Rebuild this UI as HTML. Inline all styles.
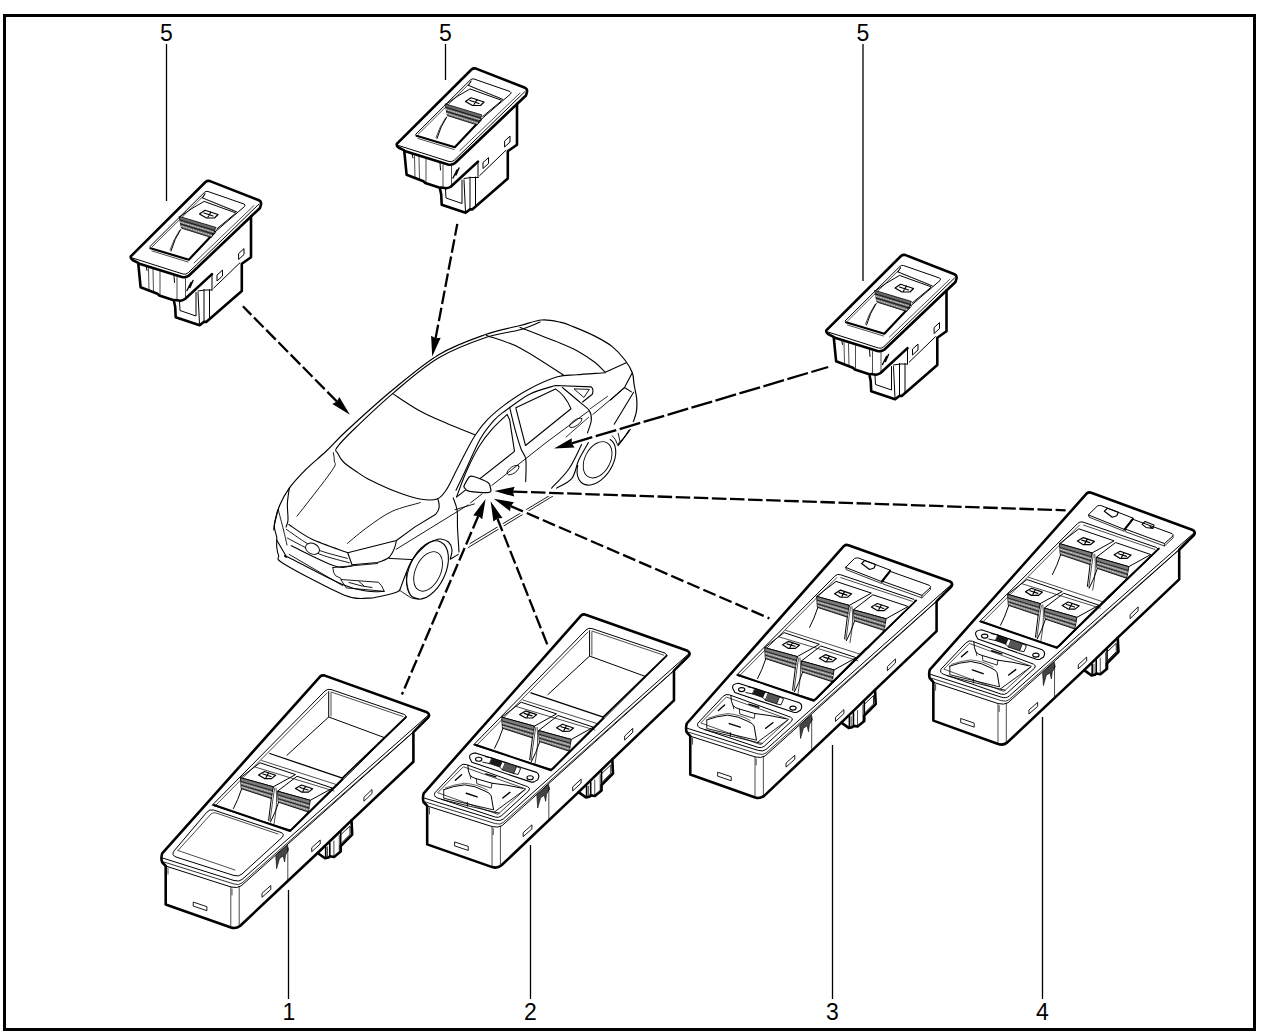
<!DOCTYPE html>
<html><head><meta charset="utf-8"><style>
html,body{margin:0;padding:0;background:#fff;}
svg{display:block;}
</style></head><body>
<svg width="1280" height="1033" viewBox="0 0 1280 1033">
<g fill="none" stroke="#000" stroke-linejoin="round" stroke-linecap="round">
<path d="M273.8,530.0 C274.0,528.8 273.8,527.0 274.8,522.9 C275.8,518.8 277.2,511.3 279.6,505.5 C282.0,499.7 284.8,494.2 289.3,488.1 C293.8,482.0 300.6,474.8 306.7,468.7 C312.8,462.6 319.3,457.8 326.1,451.3 C332.9,444.9 336.4,440.1 347.4,430.0 C358.4,419.9 376.7,403.0 391.9,390.5 C407.1,378.0 422.9,364.2 438.4,354.9 C453.9,345.6 471.2,339.7 484.8,334.8 C498.4,329.9 510.5,328.0 520.0,325.5 C529.5,323.0 535.0,320.6 541.7,320.0 C548.4,319.4 554.8,321.1 560.0,322.2 C565.2,323.3 567.3,324.3 573.1,326.6 C578.9,328.9 588.3,332.8 594.8,336.1 C601.3,339.4 607.2,342.5 612.3,346.6 C617.4,350.7 622.0,356.1 625.3,360.5 C628.6,364.9 630.8,368.8 632.3,372.7 C633.8,376.6 633.3,379.6 634.0,384.0 C634.7,388.4 636.3,394.6 636.7,399.0 C637.1,403.4 636.9,407.5 636.5,410.7 C636.1,413.9 635.6,415.2 634.5,418.4 C633.4,421.6 632.4,425.5 629.7,430.0 C627.0,434.5 620.0,442.9 618.1,445.5" stroke-width="1.2"/>
<path d="M540.0,322.0 C536.7,323.3 528.9,327.2 520.0,329.8 C511.1,332.4 500.0,332.6 486.4,337.3 C472.8,342.0 453.9,348.8 438.4,358.0 C422.9,367.2 407.7,380.8 393.5,392.8 C379.3,404.8 362.7,420.8 353.2,430.0 C343.7,439.2 339.3,444.0 336.7,447.9 C334.1,451.8 336.6,450.8 337.7,453.2 C338.8,455.6 340.6,459.1 343.5,462.0 C346.4,464.9 351.0,467.9 355.1,470.7 C359.2,473.5 361.0,475.3 368.0,478.9 C375.0,482.4 388.1,488.6 397.0,492.0 C405.9,495.4 414.4,498.1 421.2,499.2 C428.0,500.3 433.3,500.5 437.7,498.7 C442.1,496.9 444.2,492.9 447.4,488.1 C450.5,483.3 453.5,476.1 456.6,470.0 C459.7,463.9 462.9,457.3 466.1,451.4 C469.3,445.5 472.1,439.9 475.7,434.5 C479.3,429.1 483.0,424.2 487.9,419.2 C492.8,414.2 498.6,409.4 505.3,404.4 C512.0,399.4 519.7,394.0 528.4,389.4 C537.1,384.8 549.3,379.2 557.4,376.8 C565.5,374.4 568.8,375.5 576.8,374.8 C584.8,374.1 600.5,373.1 605.3,372.7" stroke-width="1.1"/>
<path d="M392.7,393.6 C397.2,396.5 410.9,406.0 420.0,411.0 C429.1,416.0 437.9,419.6 447.0,423.5 C456.1,427.4 470.2,432.8 474.8,434.7" stroke-width="1.1"/>
<path d="M486.4,335.5 C492.0,337.6 507.2,341.3 520.0,347.9 C532.8,354.5 556.2,370.5 563.4,375.0" stroke-width="1.1"/>
<path d="M520.0,327.5 C526.7,330.1 550.4,339.2 560.0,343.1 C569.6,347.0 571.6,347.8 577.4,351.0 C583.2,354.2 590.1,358.8 594.8,362.3 C599.4,365.9 603.5,370.6 605.3,372.3 L626.2,362.7" stroke-width="1.1"/>
<path d="M632.3,372.7 L624.5,387.5 L631.4,391.9 M624.5,387.5 L610.5,400" stroke-width="1.1"/>
<path d="M633.6,392.3 L614.2,424.2" stroke-width="1.1"/>
<path d="M629.7,430 L618.1,445.5 M612.3,435.8 Q616,439 617.1,443.6 M618.1,432.9 L620,441.6" stroke-width="0.9"/>
<path d="M590,408.9 L607.6,396.3" stroke-width="0.8"/>
<path d="M456.0,490.3 C457.8,486.6 462.6,476.7 466.6,468.1 C470.6,459.6 475.7,446.9 480.2,439.0 C484.7,431.1 489.6,425.3 493.7,420.6 C497.8,415.9 498.9,415.4 505.0,411.0 C511.1,406.6 521.6,398.1 530.0,393.9 C538.4,389.6 551.2,386.9 555.5,385.5 L591.3,386.9 Q594,389 592.3,394.2 L582.6,402" stroke-width="1.1"/>
<path d="M456.5,497.1 C458.2,492.6 463.2,478.5 467.0,470.0 C470.8,461.5 475.0,453.1 479.2,446.2 C483.4,439.3 487.6,434.1 492.3,428.8 C497.0,423.5 504.6,416.8 507.1,414.4 L509.7,420.1 L514.5,451.4 L456.5,497.1" stroke-width="1.1"/>
<path d="M509.7,407.4 C510.6,411.0 513.0,421.9 514.9,428.8 C516.8,435.7 519.2,443.7 521.0,448.8 C522.8,453.9 525.0,453.8 525.8,459.3 C526.6,464.8 525.7,477.9 525.7,481.6" stroke-width="1.1"/>
<path d="M515.8,407.8 L555.5,388.9 Q565.2,395.2 571,408.7 L525.5,445.5 Z" stroke-width="1.1"/>
<path d="M562.3,387.4 C565.4,390.0 576.2,399.0 580.7,402.9 C585.2,406.8 587.6,407.8 589.4,410.7 C591.2,413.6 591.6,416.6 591.3,420.3 C591.0,424.0 588.1,430.8 587.5,432.9" stroke-width="1.1"/>
<path d="M574.4,388.9 L589.4,389.4 L584.1,397.1 Z" stroke-width="0.9"/>
<path d="M470.5,502.9 L482,494 M491.8,485.5 L545,443.4 L588.6,411 M592.8,414.5 L624.5,387.8" stroke-width="0.9"/>
<path d="M566.1,437 L588.6,417.3" stroke-width="0.8"/>
<ellipse cx="575.8" cy="422.8" rx="7.3" ry="2.8" transform="rotate(-35 575.8 422.8)" stroke-width="0.8"/>
<ellipse cx="513.1" cy="470" rx="7" ry="3.2" transform="rotate(-35 513.1 470)" stroke-width="0.8"/>
<path fill="#fff" d="M464.7,484.5 C465.6,482.7 467.9,478.1 469.5,476.8 C471.1,475.5 471.3,475.8 474.4,476.8 C477.5,477.8 485.2,480.8 487.9,482.6 C490.5,484.4 490.1,485.8 490.3,487.4 C490.5,489.0 492.4,491.6 488.9,492.3 C485.4,493.0 473.6,492.1 469.5,491.3 C465.4,490.5 465.0,488.5 464.2,487.4 C463.4,486.3 463.8,486.3 464.7,484.5 Z" stroke-width="1.2"/>
<path d="M453.2,497.8 C453.9,499.9 456.4,505.3 457.1,510.3 C457.8,515.3 457.2,520.8 457.5,527.8 C457.8,534.8 458.8,548.0 459.0,552.0" stroke-width="1.1"/>
<path d="M455,509.7 L474.4,503.9" stroke-width="0.9"/>
<path d="M466,546 L551.8,494.2 M467.5,548 L553,496" stroke-width="0.9"/>
<path d="M333.3,452.7 C333.5,454.1 334.5,458.0 334.3,461.0 C334.1,464.0 338.1,461.5 331.9,470.7 C325.7,479.9 302.8,508.6 297.0,516.2" stroke-width="0.9"/>
<path d="M289.3,488.1 C289.0,490.7 287.6,498.3 287.4,503.6 C287.2,508.9 288.2,516.1 288.0,520.0 C287.8,523.9 286.3,525.8 286.0,527.0" stroke-width="1.1"/>
<path d="M277.7,510.0 C277.1,512.6 274.5,521.0 274.3,525.5 C274.1,530.0 276.3,533.6 276.7,537.1 C277.1,540.6 276.4,543.7 276.7,546.8 C277.0,549.9 277.3,552.6 278.6,555.5 C279.9,558.4 273.5,557.6 284.5,564.2 C295.5,570.8 330.6,589.6 344.5,595.2 C358.4,600.9 362.6,597.8 368.0,598.1 C373.4,598.4 372.4,598.0 377.2,597.0 C382.0,596.0 393.1,593.3 397.0,591.9 C400.9,590.5 399.8,589.0 400.4,588.4" stroke-width="1.1"/>
<path d="M276.7,540.0 C278.3,542.8 284.4,553.6 286.4,556.5 C288.4,559.4 279.4,552.7 288.8,557.4 C298.2,562.1 329.3,578.9 342.5,584.5 C355.7,590.1 361.1,590.1 368.0,591.3 C374.9,592.4 381.4,591.4 384.1,591.4" stroke-width="1.1"/>
<path d="M278.2,509.4 C279.1,512.8 282.0,524.1 283.5,530.0 C285.0,535.9 286.4,542.5 287.0,545.0" stroke-width="0.9"/>
<path d="M288.8,524.5 C292.6,526.9 301.8,534.3 311.6,539.0 C321.4,543.7 341.7,550.4 347.7,552.7 L396.4,540.5 L415,526.9 L435.8,514.2 Q441.5,508 437.7,498.7" stroke-width="1.1"/>
<path d="M286.4,529.4 C289.5,531.5 299.1,538.5 304.8,542.0 C310.5,545.5 313.2,548.0 320.3,550.7 C327.4,553.4 342.9,557.1 347.4,558.4" stroke-width="0.9"/>
<path d="M287.4,538.1 C292.7,540.8 309.0,549.9 319.3,554.0 C329.6,558.1 344.3,561.3 349.3,562.8" stroke-width="0.9"/>
<path d="M291.2,545.8 C298.5,549.2 324.6,562.8 334.8,566.1 C345.0,569.4 349.3,565.8 352.2,565.7" stroke-width="1.1"/>
<path d="M289.3,554.5 L342.5,585.5" stroke-width="0.9"/>
<ellipse fill="#fff" cx="312.5" cy="548.7" rx="7.3" ry="5.2" transform="rotate(25 312.5 548.7)" stroke-width="0.9"/>
<path d="M347.4,543.4 C350.8,540.6 360.5,532.1 368.0,526.8 C375.5,521.4 383.5,515.3 392.2,511.3 C400.9,507.3 415.6,504.1 420.3,502.6" stroke-width="0.9"/>
<path d="M347.7,552.7 L352,564.8 L377.5,562.5 Q386,560 389.5,557 Q395,550 396.4,540.5" stroke-width="1.1"/>
<path d="M389.2,558.4 L412.4,559.6" stroke-width="1.0"/>
<path d="M332.8,567.6 L377.5,563.5 M332.8,567.6 Q333,573 335.5,575.7 L340.9,578.4" stroke-width="0.9"/>
<path d="M340.9,579.8 L346.3,587.9 L384.2,591.3 Q382,585 378.8,582.5 Z M349,582.5 L362,586 L372,587.5 M359,581.5 L364,586" stroke-width="0.9"/>
<path d="M396.1,549.3 L468,505" stroke-width="0.9"/>
<path d="M400.4,588.4 C401.2,586.1 403.5,579.5 405.5,574.7 C407.5,569.9 409.1,564.5 412.4,559.6 C415.7,554.7 421.6,548.7 425.3,545.5 C429.0,542.3 432.2,541.4 434.8,540.3 C437.4,539.2 438.5,538.7 440.8,539.0 C443.1,539.3 446.6,540.2 448.5,542.0 C450.4,543.8 451.7,546.9 452.0,549.8 C452.3,552.7 450.5,557.6 450.2,559.2 L458.8,554.1" stroke-width="1.1"/>
<ellipse cx="427.5" cy="570" rx="18" ry="31" transform="rotate(25 427.5 570)" stroke-width="1.1"/>
<ellipse cx="428.1" cy="571.4" rx="12.5" ry="21" transform="rotate(25 428.1 571.4)" stroke-width="0.9"/>
<path d="M406.4,573.0 C406.5,574.7 406.1,579.6 406.8,583.3 C407.5,587.0 408.8,592.7 410.7,595.3 C412.6,597.9 417.1,598.2 418.4,598.8" stroke-width="0.9"/>
<path d="M399.5,590.2 C401.5,591.5 408.5,596.5 411.6,597.9 C414.8,599.3 417.3,598.6 418.4,598.8" stroke-width="0.9"/>
<path d="M610.2,439.5 A16,26 32 1 1 577.8,465.2" stroke-width="1.1"/>
<ellipse cx="597.6" cy="459.8" rx="12.6" ry="19.4" transform="rotate(28 597.6 459.8)" stroke-width="0.9"/>
<path d="M551.6,488.1 C554.5,484.9 564.0,476.0 569.0,468.7 C574.0,461.4 579.5,448.5 581.6,444.5" stroke-width="1.1"/>
<path d="M556.5,488.1 C559.1,486.5 568.2,483.1 571.9,478.4 C575.6,473.7 576.0,466.0 578.7,460.0 C581.5,454.0 586.8,445.5 588.4,442.6" stroke-width="1.1"/>
<path d="M617.4,444.5 Q625,438 629,430" stroke-width="0.9"/>
<g id="sw5"><path stroke-width="2.6" fill="#fff" d="M396.8,143.8 L471.5,69.5 Q473.5,67.8 476,68.6 L525,87.8 Q527.6,89 527,91.8 L526,95.5 L517,104 L517,144.7 L507.8,151.3 L507.8,178.4 L472.2,209.4 L469.8,209.4 L465.6,212.7 L441.7,204.7 L441.2,194.4 L439.8,187.8 L425.3,183.1 L423.4,181.2 L406.6,174.7 L404.2,150.3 L398.5,147.5 Q396.3,146 396.8,143.8 Z"/>
<path stroke-width="1" d="M398.5,145.5 L449,161.5 Q452,162.5 454.5,160 L525,91.5"/>
<path stroke-width="0.7" d="M460,150.5 L520,93"/>
<path stroke-width="2.6" d="M404.5,151 L448,164.5 Q452,165.5 455,163 L517,104"/>
<path stroke-width="2.6" d="M441,187.5 L446.5,188.2 Q449,188 451,186.5 L478,161.6"/>
<path stroke-width="0.7" d="M414.5,156 L415,178 M419,157 L419.5,179.5 M426,159 L426,183 M443,165 L443,187 M451.5,166 L451.5,187 "/>
<path stroke-width="1" d="M412,153 L413,158 M440,163 L440.5,170"/>
<path stroke-width="1" d="M479.7,175.6 L505.9,150.3 M478,161.6 L478,177.5 M464,180 L465.5,212 M470,177 L470,209.4 M475.5,177 L475.5,207 M464,178.5 Q470,177 478,177.5"/>
<path stroke-width="1" d="M445.5,189 L446,198 L462,203.5 L462,180"/>
<path stroke-width="1.4" d="M457,170 L453,178 M459,168 L456,175"/>
<path stroke-width="1" d="M483,163 L483,168.5 L488.5,163.5 L488.5,158 Z M504.6,141.5 L504.6,147 L510,142 L510,136.5 Z"/>
<path stroke-width="1" d="M415.6,134.4 L470.3,80 Q472,78.3 474,79 L510,91.5 Q512,92.5 510.5,94 L481,119.5"/>
<path stroke-width="0.7" d="M418,134.5 L471,82"/>
<path stroke-width="2.2" d="M416.5,135.8 L454.8,147.2 L481,119.5"/>
<path stroke-width="0.7" d="M418,138.5 L454,149.5"/>
<path stroke-width="1" d="M468.7,85.5 L502.8,99.4 M470.3,89 L501.3,100.2 M468.5,85.5 L471,81"/>
<path stroke-width="0.6" stroke="#444" d="M472,87 L500,98"/>
<path stroke-width="1" d="M469.5,89.2 Q457,96 445.5,104.5 M501.3,101 L482.7,116.5"/>
<path stroke-width="0.8" fill="#6a6a6a" d="M445.5,104 L481.9,114.9 L477.3,125 L447.8,115.7 Z"/>
<path stroke-width="1.3" stroke="#1a1a1a" d="M446.3,107.5 L480.8,118 M446.8,111.5 L479.5,121.5"/>
<path stroke-width="0.9" stroke="#ddd" stroke-dasharray="1.2 1.4" d="M446,109.5 L481,120 M446.8,113.5 L478.5,123.5"/>
<path stroke-width="1.2" d="M465.5,101.5 L471,97.8 L484,102 L480.5,105.5 L472.5,105.5 Z M470,100.5 L479,103.5 M474,104.5 L477,99.5"/>
<path stroke-width="1" d="M446.7,117 Q440.5,126 437,138.5"/>
<path stroke-width="0.7" d="M445.5,118 Q439.5,127 436,137.5"/></g>
<use href="#sw5" transform="translate(-266,112.5)"/>
<use href="#sw5" transform="translate(429.5,186.5)"/>
<path stroke-width="2.6" fill="#fff" d="M162.2,853.3 L320.3,676.3 Q322.3,674.8 324.8,675.6 L427,712.3 Q430,713.8 428.6,716.8 L413.4,732.1 L413.4,761.8 L351.5,820.4 L352.2,834.6 L340.7,846.1 L340.7,851.5 L334,857 L330,856.3 L328.5,857.6 L325,858.3 L317.6,853 L240,926 Q236,929 231,927.5 L165.7,904.4 L165.7,866 L162,862 Q160.8,857.5 162.2,853.3 Z"/>
<path stroke-width="1.0" d="M162.5,858 L234,880.5 Q239.2,882 242,879.5 L428,715.5"/>
<path stroke-width="0.8" d="M164,862 L234,884 Q239,885.5 242,883 L428.5,718.5"/>
<path stroke-width="1.0" d="M165.7,866 L231,887 Q237,888.5 241,886 L413.4,732.1"/>
<path stroke-width="0.7" d="M230.8,887 L230.8,926.8 M239.2,887 L239.2,926"/>
<path stroke-width="0.7" d="M168,868 L168,874 M232,889 L232,895"/>
<path stroke-width="0.6" fill="#444" d="M277.5,854 L287.5,845 L288.5,850 L285.5,855 L284.6,862 L283.2,856 L279.5,858.5 L276.6,868.7 L275.8,856 Z"/>
<path stroke-width="0.9" d="M193.6,902.2 L206.9,906.7 L206.9,910.7 L193.6,906.2 Z M262.3,897 L270.8,889.5 L270.8,885.5 L262.3,893 Z M312,851.5 L320.2,844 L320.2,840 L312,847.5 Z M364.2,801 L372,793.5 L372,789.5 L364.2,797 Z"/>
<path stroke-width="2.6" d="M351.5,820.4 L317.6,853"/>
<path stroke-width="1.6" d="M340.7,832 L340.7,846.1 M329.8,843 L329.8,856.2 M325.7,847 L325.7,857.6"/>
<path stroke-width="0.9" d="M341.5,834 L350,826 L350,834.5 L341.5,843"/>
<path stroke-width="0.7" d="M333.9,841 L333.9,855.5 M339.3,835.5 L339.3,851.5 M327.5,847 L327.5,857"/>
<path stroke-width="0.7" d="M287.8,848 L287.8,880"/>
<path stroke-width="2.0" d="M214,805 L290,831 L342.4,779.3"/>
<path stroke-width="1.0" d="M212.5,804.9 L325,691 Q327.5,688.5 331,689.5 L404.5,714.5 Q407.3,716 405,718.5 L293,829 Q291,830.5 288.5,829.5 Z"/>
<path stroke-width="0.7" d="M215,806 L327,693 M331,692 L403,716.5"/>
<path stroke-width="1.0" d="M328.7,691.6 L328.7,717 L384.4,737.6 M328.7,717 L287,755.2"/>
<path stroke-width="0.7" d="M331,693 L331,716"/>
<path stroke-width="1.3" d="M269.8,753.5 L342.4,778.1"/>
<path stroke-width="1.8" d="M342.4,778.1 L406.1,717"/>
<path stroke-width="0.7" d="M261.6,760.5 L337.7,785 M255,767 L334,791"/>
<path stroke-width="1.0" d="M260.4,762.9 L295.5,774.6 L273.3,786.8 L240.9,777.8 Z"/>
<path stroke-width="0.9" fill="#7a7a7a" d="M240.9,777.8 L273.3,786.8 L271.3,798.5 L241.6,788.75 Z"/>
<path stroke-width="1.0" stroke="#222" d="M241.2,781.5 L272.6,790.6 M241.4,785.3 L272,794.5"/>
<path stroke-width="0.9" stroke="#ddd" stroke-dasharray="1.2 1.4" d="M241.6,783.4 L272.3,792.5 M241.8,787 L271.7,796.4"/>
<path stroke-width="1.0" d="M241.6,789 Q238,800 233.4,808.6"/>
<path stroke-width="1.0" d="M271.3,798.5 L268.6,820.3"/>
<path stroke-width="1.2" d="M258.5,775 L264.5,771.5 L275.6,775.3 L271.5,778.6 L264.5,778.6 Z M263,774 L271,776.5 M266,777.5 L268.5,773"/>
<path stroke-width="0.7" d="M273.3,787 L274.5,789 L273,799 L270,821 M276,788 Q278,803 274,824"/>
<g transform="translate(37,13.5)"><path stroke-width="1.0" d="M260.4,762.9 L295.5,774.6 L273.3,786.8 L240.9,777.8 Z"/>
<path stroke-width="0.9" fill="#7a7a7a" d="M240.9,777.8 L273.3,786.8 L271.3,798.5 L241.6,788.75 Z"/>
<path stroke-width="1.0" stroke="#222" d="M241.2,781.5 L272.6,790.6 M241.4,785.3 L272,794.5"/>
<path stroke-width="0.9" stroke="#ddd" stroke-dasharray="1.2 1.4" d="M241.6,783.4 L272.3,792.5 M241.8,787 L271.7,796.4"/>
<path stroke-width="1.0" d="M241.6,789 Q238,800 233.4,808.6"/>
<path stroke-width="1.0" d="M271.3,798.5 L255,816.5"/>
<path stroke-width="1.2" d="M258.5,775 L264.5,771.5 L275.6,775.3 L271.5,778.6 L264.5,778.6 Z M263,774 L271,776.5 M266,777.5 L268.5,773"/></g>
<path stroke-width="1.0" d="M174,851 Q171,855 176,857 L234,875.5 Q239,877 242,874 L282,837.5 Q285,834 281,832.5 L213.5,810 Q209.7,809 207,812 Z"/>
<path stroke-width="0.7" d="M178,850.5 L211,814 Q213,812 216,813 L278,834 M178,850.5 L235,870"/>
<g transform="translate(260.5,-61.5) matrix(0.9963,-0.0056,0,1,1.6,2.4)"><path stroke-width="2.6" fill="#fff" d="M162.2,853.3 L320.3,676.3 Q322.3,674.8 324.8,675.6 L427,712.3 Q430,713.8 428.6,716.8 L413.4,732.1 L413.4,761.8 L351.5,820.4 L352.2,834.6 L340.7,846.1 L340.7,851.5 L334,857 L330,856.3 L328.5,857.6 L325,858.3 L317.6,853 L240,926 Q236,929 231,927.5 L165.7,904.4 L165.7,866 L162,862 Q160.8,857.5 162.2,853.3 Z"/>
<path stroke-width="1.0" d="M162.5,858 L234,880.5 Q239.2,882 242,879.5 L428,715.5"/>
<path stroke-width="0.8" d="M164,862 L234,884 Q239,885.5 242,883 L428.5,718.5"/>
<path stroke-width="1.0" d="M165.7,866 L231,887 Q237,888.5 241,886 L413.4,732.1"/>
<path stroke-width="0.7" d="M230.8,887 L230.8,926.8 M239.2,887 L239.2,926"/>
<path stroke-width="0.7" d="M168,868 L168,874 M232,889 L232,895"/>
<path stroke-width="0.6" fill="#444" d="M277.5,854 L287.5,845 L288.5,850 L285.5,855 L284.6,862 L283.2,856 L279.5,858.5 L276.6,868.7 L275.8,856 Z"/>
<path stroke-width="0.9" d="M193.6,902.2 L206.9,906.7 L206.9,910.7 L193.6,906.2 Z M262.3,897 L270.8,889.5 L270.8,885.5 L262.3,893 Z M312,851.5 L320.2,844 L320.2,840 L312,847.5 Z M364.2,801 L372,793.5 L372,789.5 L364.2,797 Z"/>
<path stroke-width="2.6" d="M351.5,820.4 L317.6,853"/>
<path stroke-width="1.6" d="M340.7,832 L340.7,846.1 M329.8,843 L329.8,856.2 M325.7,847 L325.7,857.6"/>
<path stroke-width="0.9" d="M341.5,834 L350,826 L350,834.5 L341.5,843"/>
<path stroke-width="0.7" d="M333.9,841 L333.9,855.5 M339.3,835.5 L339.3,851.5 M327.5,847 L327.5,857"/>
<path stroke-width="0.7" d="M287.8,848 L287.8,880"/>
<path stroke-width="2.0" d="M214,805 L290,831 L342.4,779.3"/>
<path stroke-width="1.0" d="M212.5,804.9 L325,691 Q327.5,688.5 331,689.5 L404.5,714.5 Q407.3,716 405,718.5 L293,829 Q291,830.5 288.5,829.5 Z"/>
<path stroke-width="0.7" d="M215,806 L327,693 M331,692 L403,716.5"/>
<path stroke-width="1.0" d="M328.7,691.6 L328.7,717 L384.4,737.6 M328.7,717 L287,755.2"/>
<path stroke-width="0.7" d="M331,693 L331,716"/>
<path stroke-width="1.3" d="M269.8,753.5 L342.4,778.1"/>
<path stroke-width="1.8" d="M342.4,778.1 L406.1,717"/>
<path stroke-width="0.7" d="M261.6,760.5 L337.7,785 M255,767 L334,791"/>
<path stroke-width="1.0" d="M260.4,762.9 L295.5,774.6 L273.3,786.8 L240.9,777.8 Z"/>
<path stroke-width="0.9" fill="#7a7a7a" d="M240.9,777.8 L273.3,786.8 L271.3,798.5 L241.6,788.75 Z"/>
<path stroke-width="1.0" stroke="#222" d="M241.2,781.5 L272.6,790.6 M241.4,785.3 L272,794.5"/>
<path stroke-width="0.9" stroke="#ddd" stroke-dasharray="1.2 1.4" d="M241.6,783.4 L272.3,792.5 M241.8,787 L271.7,796.4"/>
<path stroke-width="1.0" d="M241.6,789 Q238,800 233.4,808.6"/>
<path stroke-width="1.0" d="M271.3,798.5 L268.6,820.3"/>
<path stroke-width="1.2" d="M258.5,775 L264.5,771.5 L275.6,775.3 L271.5,778.6 L264.5,778.6 Z M263,774 L271,776.5 M266,777.5 L268.5,773"/>
<path stroke-width="0.7" d="M273.3,787 L274.5,789 L273,799 L270,821 M276,788 Q278,803 274,824"/>
<g transform="translate(37,13.5)"><path stroke-width="1.0" d="M260.4,762.9 L295.5,774.6 L273.3,786.8 L240.9,777.8 Z"/>
<path stroke-width="0.9" fill="#7a7a7a" d="M240.9,777.8 L273.3,786.8 L271.3,798.5 L241.6,788.75 Z"/>
<path stroke-width="1.0" stroke="#222" d="M241.2,781.5 L272.6,790.6 M241.4,785.3 L272,794.5"/>
<path stroke-width="0.9" stroke="#ddd" stroke-dasharray="1.2 1.4" d="M241.6,783.4 L272.3,792.5 M241.8,787 L271.7,796.4"/>
<path stroke-width="1.0" d="M241.6,789 Q238,800 233.4,808.6"/>
<path stroke-width="1.0" d="M271.3,798.5 L255,816.5"/>
<path stroke-width="1.2" d="M258.5,775 L264.5,771.5 L275.6,775.3 L271.5,778.6 L264.5,778.6 Z M263,774 L271,776.5 M266,777.5 L268.5,773"/></g>
<path stroke-width="1.0" d="M173.2,853.3 Q172,856.5 176,858 L234,877.5 Q237.6,878.6 240.5,876 L267.5,851.5 Q270,848.6 266.5,847.3 L205,824.8 Q201.5,823.5 199,826 Z"/>
<path stroke-width="0.7" d="M176.5,852.5 L202,827 L264.5,849.5 L237,874.5 Z"/>
<path stroke-width="1.0" d="M206.5,825.5 Q206.5,832 208.8,835.7 Q211,838 215,839 L230.7,843.6 Q245,845 262,849"/>
<path stroke-width="0.8" d="M215.1,839 L215.5,844 L230,848.5 L230.7,843.6 M208.8,835.7 L209.5,839"/>
<path stroke-width="1.0" d="M182.3,849.8 Q192,846 203.4,845.1 Q214,846 223.7,851.4 Q229,853.5 229.9,856.1 L232.3,870.1"/>
<path stroke-width="0.9" d="M182.3,849.8 L182.3,858.4 L231.5,870.1 M206,862.5 L206,866.5"/>
<path stroke-width="0.6" d="M184,848 Q193,844.5 203.4,843.5 Q216,844.5 226,850.5"/>
<path stroke-width="0.9" d="M180,859.5 L233,872.5 L238,873.5 M233,872.5 L264,850"/>
<path stroke-width="1.4" d="M224.5,834.2 L234.6,837.3 M204.9,853.5 L215.9,857.2 M241.6,858.4 L248.7,852.9 M194,840.4 L200.2,835"/>
<path stroke-width="1.1" d="M208.5,818.5 Q207,814 214.2,813.2 L275.5,833 Q279.5,835.5 276.5,840.5 L273,842.5 Q271.5,843 269.5,842.5 L210.5,822.5 Z"/>
<ellipse cx="217.4" cy="819.6" rx="3.2" ry="2" stroke-width="1.1"/>
<ellipse cx="269" cy="838.3" rx="3.2" ry="2" stroke-width="1.1"/>
<path stroke-width="0.8" fill="#1a1a1a" d="M231,818.5 L241,822 L238.5,827.5 L228.5,824 Z"/>
<path stroke-width="0.8" fill="#555" d="M244.5,823 L255.5,827 L252.5,834 L241.5,830.5 Z"/>
<path stroke-width="0.9" d="M224,817 L231,818.5 M221.5,822.5 L228.5,824 M241,822 L244.5,823 M238.5,827.5 L241.5,830.5 M255.5,827 L259.5,829 L257,835 L252.5,834"/></g>
<g transform="translate(523.1,-130.8) matrix(0.9944,-0.0037,0,1,2.4,1.6)"><path stroke-width="2.6" fill="#fff" d="M162.2,853.3 L320.3,676.3 Q322.3,674.8 324.8,675.6 L427,712.3 Q430,713.8 428.6,716.8 L413.4,732.1 L413.4,761.8 L351.5,820.4 L352.2,834.6 L340.7,846.1 L340.7,851.5 L334,857 L330,856.3 L328.5,857.6 L325,858.3 L317.6,853 L240,926 Q236,929 231,927.5 L165.7,904.4 L165.7,866 L162,862 Q160.8,857.5 162.2,853.3 Z"/>
<path stroke-width="1.0" d="M162.5,858 L234,880.5 Q239.2,882 242,879.5 L428,715.5"/>
<path stroke-width="0.8" d="M164,862 L234,884 Q239,885.5 242,883 L428.5,718.5"/>
<path stroke-width="1.0" d="M165.7,866 L231,887 Q237,888.5 241,886 L413.4,732.1"/>
<path stroke-width="0.7" d="M230.8,887 L230.8,926.8 M239.2,887 L239.2,926"/>
<path stroke-width="0.7" d="M168,868 L168,874 M232,889 L232,895"/>
<path stroke-width="0.6" fill="#444" d="M277.5,854 L287.5,845 L288.5,850 L285.5,855 L284.6,862 L283.2,856 L279.5,858.5 L276.6,868.7 L275.8,856 Z"/>
<path stroke-width="0.9" d="M193.6,902.2 L206.9,906.7 L206.9,910.7 L193.6,906.2 Z M262.3,897 L270.8,889.5 L270.8,885.5 L262.3,893 Z M312,851.5 L320.2,844 L320.2,840 L312,847.5 Z M364.2,801 L372,793.5 L372,789.5 L364.2,797 Z"/>
<path stroke-width="2.6" d="M351.5,820.4 L317.6,853"/>
<path stroke-width="1.6" d="M340.7,832 L340.7,846.1 M329.8,843 L329.8,856.2 M325.7,847 L325.7,857.6"/>
<path stroke-width="0.9" d="M341.5,834 L350,826 L350,834.5 L341.5,843"/>
<path stroke-width="0.7" d="M333.9,841 L333.9,855.5 M339.3,835.5 L339.3,851.5 M327.5,847 L327.5,857"/>
<path stroke-width="0.7" d="M287.8,848 L287.8,880"/>
<path stroke-width="2.0" d="M214,805 L290,831 L342.4,779.3"/>
<path stroke-width="1.0" d="M212.5,804.9 L311,706.5 Q313.3,704.1 316.5,705 L390.5,730 Q393.1,731.4 391,733.5 L293,829 Q291,830.5 288.5,829.5 Z"/>
<path stroke-width="0.7" d="M215,806 L313,708 M317,708 L389,732"/>
<path stroke-width="1.8" d="M342.4,779.3 L393,731"/>
<g transform="translate(52.3,-51)"><path stroke-width="1.0" d="M260.4,762.9 L295.5,774.6 L273.3,786.8 L240.9,777.8 Z"/>
<path stroke-width="0.9" fill="#7a7a7a" d="M240.9,777.8 L273.3,786.8 L271.3,798.5 L241.6,788.75 Z"/>
<path stroke-width="1.0" stroke="#222" d="M241.2,781.5 L272.6,790.6 M241.4,785.3 L272,794.5"/>
<path stroke-width="0.9" stroke="#ddd" stroke-dasharray="1.2 1.4" d="M241.6,783.4 L272.3,792.5 M241.8,787 L271.7,796.4"/>
<path stroke-width="1.0" d="M241.6,789 Q238,800 233.4,808.6"/>
<path stroke-width="1.0" d="M271.3,798.5 L268.6,820.3"/>
<path stroke-width="1.2" d="M258.5,775 L264.5,771.5 L275.6,775.3 L271.5,778.6 L264.5,778.6 Z M263,774 L271,776.5 M266,777.5 L268.5,773"/>
<path stroke-width="0.7" d="M273.3,787 L274.5,789 L273,799 L270,821 M276,788 Q278,803 274,824"/>
<g transform="translate(37,13.5)"><path stroke-width="1.0" d="M260.4,762.9 L295.5,774.6 L273.3,786.8 L240.9,777.8 Z"/>
<path stroke-width="0.9" fill="#7a7a7a" d="M240.9,777.8 L273.3,786.8 L271.3,798.5 L241.6,788.75 Z"/>
<path stroke-width="1.0" stroke="#222" d="M241.2,781.5 L272.6,790.6 M241.4,785.3 L272,794.5"/>
<path stroke-width="0.9" stroke="#ddd" stroke-dasharray="1.2 1.4" d="M241.6,783.4 L272.3,792.5 M241.8,787 L271.7,796.4"/>
<path stroke-width="1.0" d="M241.6,789 Q238,800 233.4,808.6"/>
<path stroke-width="1.0" d="M271.3,798.5 L255,816.5"/>
<path stroke-width="1.2" d="M258.5,775 L264.5,771.5 L275.6,775.3 L271.5,778.6 L264.5,778.6 Z M263,774 L271,776.5 M266,777.5 L268.5,773"/></g></g>
<path stroke-width="1.0" d="M322.1,697.5 L331,688.8 Q333,688 335,688.5 L366.9,700.8 L358.1,711.7 Z"/>
<path stroke-width="0.8" d="M322.1,697.5 L322.5,700 L358,714 L358.1,711.7"/>
<path stroke-width="1.0" d="M367,702 L406.3,716.1 Q408,717 407,718.5 L398.6,726 L359.2,711.8 Z"/>
<path stroke-width="0.8" d="M359.2,711.8 L359.5,714.5 L398.5,728.5 L398.6,726 M398.6,728.5 L407.5,720 L407,718.5"/>
<path stroke-width="1.2" fill="#888" d="M358.1,711.7 L366.9,700.8 L367,702 L359.2,711.8"/>
<path stroke-width="1.2" d="M338,694 L341,691 L352,695 L350.5,698.5 L346,700 Z"/>
<path stroke-width="0.7" d="M261.6,760.5 L337.7,785 M255,767 L334,791"/>
<path stroke-width="1.0" d="M260.4,762.9 L295.5,774.6 L273.3,786.8 L240.9,777.8 Z"/>
<path stroke-width="0.9" fill="#7a7a7a" d="M240.9,777.8 L273.3,786.8 L271.3,798.5 L241.6,788.75 Z"/>
<path stroke-width="1.0" stroke="#222" d="M241.2,781.5 L272.6,790.6 M241.4,785.3 L272,794.5"/>
<path stroke-width="0.9" stroke="#ddd" stroke-dasharray="1.2 1.4" d="M241.6,783.4 L272.3,792.5 M241.8,787 L271.7,796.4"/>
<path stroke-width="1.0" d="M241.6,789 Q238,800 233.4,808.6"/>
<path stroke-width="1.0" d="M271.3,798.5 L268.6,820.3"/>
<path stroke-width="1.2" d="M258.5,775 L264.5,771.5 L275.6,775.3 L271.5,778.6 L264.5,778.6 Z M263,774 L271,776.5 M266,777.5 L268.5,773"/>
<path stroke-width="0.7" d="M273.3,787 L274.5,789 L273,799 L270,821 M276,788 Q278,803 274,824"/>
<g transform="translate(37,13.5)"><path stroke-width="1.0" d="M260.4,762.9 L295.5,774.6 L273.3,786.8 L240.9,777.8 Z"/>
<path stroke-width="0.9" fill="#7a7a7a" d="M240.9,777.8 L273.3,786.8 L271.3,798.5 L241.6,788.75 Z"/>
<path stroke-width="1.0" stroke="#222" d="M241.2,781.5 L272.6,790.6 M241.4,785.3 L272,794.5"/>
<path stroke-width="0.9" stroke="#ddd" stroke-dasharray="1.2 1.4" d="M241.6,783.4 L272.3,792.5 M241.8,787 L271.7,796.4"/>
<path stroke-width="1.0" d="M241.6,789 Q238,800 233.4,808.6"/>
<path stroke-width="1.0" d="M271.3,798.5 L255,816.5"/>
<path stroke-width="1.2" d="M258.5,775 L264.5,771.5 L275.6,775.3 L271.5,778.6 L264.5,778.6 Z M263,774 L271,776.5 M266,777.5 L268.5,773"/></g>
<path stroke-width="1.0" d="M173.2,853.3 Q172,856.5 176,858 L234,877.5 Q237.6,878.6 240.5,876 L267.5,851.5 Q270,848.6 266.5,847.3 L205,824.8 Q201.5,823.5 199,826 Z"/>
<path stroke-width="0.7" d="M176.5,852.5 L202,827 L264.5,849.5 L237,874.5 Z"/>
<path stroke-width="1.0" d="M206.5,825.5 Q206.5,832 208.8,835.7 Q211,838 215,839 L230.7,843.6 Q245,845 262,849"/>
<path stroke-width="0.8" d="M215.1,839 L215.5,844 L230,848.5 L230.7,843.6 M208.8,835.7 L209.5,839"/>
<path stroke-width="1.0" d="M182.3,849.8 Q192,846 203.4,845.1 Q214,846 223.7,851.4 Q229,853.5 229.9,856.1 L232.3,870.1"/>
<path stroke-width="0.9" d="M182.3,849.8 L182.3,858.4 L231.5,870.1 M206,862.5 L206,866.5"/>
<path stroke-width="0.6" d="M184,848 Q193,844.5 203.4,843.5 Q216,844.5 226,850.5"/>
<path stroke-width="0.9" d="M180,859.5 L233,872.5 L238,873.5 M233,872.5 L264,850"/>
<path stroke-width="1.4" d="M224.5,834.2 L234.6,837.3 M204.9,853.5 L215.9,857.2 M241.6,858.4 L248.7,852.9 M194,840.4 L200.2,835"/>
<path stroke-width="1.1" d="M208.5,818.5 Q207,814 214.2,813.2 L275.5,833 Q279.5,835.5 276.5,840.5 L273,842.5 Q271.5,843 269.5,842.5 L210.5,822.5 Z"/>
<ellipse cx="217.4" cy="819.6" rx="3.2" ry="2" stroke-width="1.1"/>
<ellipse cx="269" cy="838.3" rx="3.2" ry="2" stroke-width="1.1"/>
<path stroke-width="0.8" fill="#1a1a1a" d="M231,818.5 L241,822 L238.5,827.5 L228.5,824 Z"/>
<path stroke-width="0.8" fill="#555" d="M244.5,823 L255.5,827 L252.5,834 L241.5,830.5 Z"/>
<path stroke-width="0.9" d="M224,817 L231,818.5 M221.5,822.5 L228.5,824 M241,822 L244.5,823 M238.5,827.5 L241.5,830.5 M255.5,827 L259.5,829 L257,835 L252.5,834"/></g>
<g transform="translate(765.7,-182.3) matrix(0.9925,0.0056,0,1,3.2,-2.4)"><path stroke-width="2.6" fill="#fff" d="M162.2,853.3 L320.3,676.3 Q322.3,674.8 324.8,675.6 L427,712.3 Q430,713.8 428.6,716.8 L413.4,732.1 L413.4,761.8 L351.5,820.4 L352.2,834.6 L340.7,846.1 L340.7,851.5 L334,857 L330,856.3 L328.5,857.6 L325,858.3 L317.6,853 L240,926 Q236,929 231,927.5 L165.7,904.4 L165.7,866 L162,862 Q160.8,857.5 162.2,853.3 Z"/>
<path stroke-width="1.0" d="M162.5,858 L234,880.5 Q239.2,882 242,879.5 L428,715.5"/>
<path stroke-width="0.8" d="M164,862 L234,884 Q239,885.5 242,883 L428.5,718.5"/>
<path stroke-width="1.0" d="M165.7,866 L231,887 Q237,888.5 241,886 L413.4,732.1"/>
<path stroke-width="0.7" d="M230.8,887 L230.8,926.8 M239.2,887 L239.2,926"/>
<path stroke-width="0.7" d="M168,868 L168,874 M232,889 L232,895"/>
<path stroke-width="0.6" fill="#444" d="M277.5,854 L287.5,845 L288.5,850 L285.5,855 L284.6,862 L283.2,856 L279.5,858.5 L276.6,868.7 L275.8,856 Z"/>
<path stroke-width="0.9" d="M193.6,902.2 L206.9,906.7 L206.9,910.7 L193.6,906.2 Z M262.3,897 L270.8,889.5 L270.8,885.5 L262.3,893 Z M312,851.5 L320.2,844 L320.2,840 L312,847.5 Z M364.2,801 L372,793.5 L372,789.5 L364.2,797 Z"/>
<path stroke-width="2.6" d="M351.5,820.4 L317.6,853"/>
<path stroke-width="1.6" d="M340.7,832 L340.7,846.1 M329.8,843 L329.8,856.2 M325.7,847 L325.7,857.6"/>
<path stroke-width="0.9" d="M341.5,834 L350,826 L350,834.5 L341.5,843"/>
<path stroke-width="0.7" d="M333.9,841 L333.9,855.5 M339.3,835.5 L339.3,851.5 M327.5,847 L327.5,857"/>
<path stroke-width="0.7" d="M287.8,848 L287.8,880"/>
<path stroke-width="2.0" d="M214,805 L290,831 L342.4,779.3"/>
<path stroke-width="1.0" d="M212.5,804.9 L311,706.5 Q313.3,704.1 316.5,705 L390.5,730 Q393.1,731.4 391,733.5 L293,829 Q291,830.5 288.5,829.5 Z"/>
<path stroke-width="0.7" d="M215,806 L313,708 M317,708 L389,732"/>
<path stroke-width="1.8" d="M342.4,779.3 L393,731"/>
<g transform="translate(52.3,-51)"><path stroke-width="1.0" d="M260.4,762.9 L295.5,774.6 L273.3,786.8 L240.9,777.8 Z"/>
<path stroke-width="0.9" fill="#7a7a7a" d="M240.9,777.8 L273.3,786.8 L271.3,798.5 L241.6,788.75 Z"/>
<path stroke-width="1.0" stroke="#222" d="M241.2,781.5 L272.6,790.6 M241.4,785.3 L272,794.5"/>
<path stroke-width="0.9" stroke="#ddd" stroke-dasharray="1.2 1.4" d="M241.6,783.4 L272.3,792.5 M241.8,787 L271.7,796.4"/>
<path stroke-width="1.0" d="M241.6,789 Q238,800 233.4,808.6"/>
<path stroke-width="1.0" d="M271.3,798.5 L268.6,820.3"/>
<path stroke-width="1.2" d="M258.5,775 L264.5,771.5 L275.6,775.3 L271.5,778.6 L264.5,778.6 Z M263,774 L271,776.5 M266,777.5 L268.5,773"/>
<path stroke-width="0.7" d="M273.3,787 L274.5,789 L273,799 L270,821 M276,788 Q278,803 274,824"/>
<g transform="translate(37,13.5)"><path stroke-width="1.0" d="M260.4,762.9 L295.5,774.6 L273.3,786.8 L240.9,777.8 Z"/>
<path stroke-width="0.9" fill="#7a7a7a" d="M240.9,777.8 L273.3,786.8 L271.3,798.5 L241.6,788.75 Z"/>
<path stroke-width="1.0" stroke="#222" d="M241.2,781.5 L272.6,790.6 M241.4,785.3 L272,794.5"/>
<path stroke-width="0.9" stroke="#ddd" stroke-dasharray="1.2 1.4" d="M241.6,783.4 L272.3,792.5 M241.8,787 L271.7,796.4"/>
<path stroke-width="1.0" d="M241.6,789 Q238,800 233.4,808.6"/>
<path stroke-width="1.0" d="M271.3,798.5 L255,816.5"/>
<path stroke-width="1.2" d="M258.5,775 L264.5,771.5 L275.6,775.3 L271.5,778.6 L264.5,778.6 Z M263,774 L271,776.5 M266,777.5 L268.5,773"/></g></g>
<path stroke-width="1.0" d="M322.1,697.5 L331,688.8 Q333,688 335,688.5 L366.9,700.8 L358.1,711.7 Z"/>
<path stroke-width="0.8" d="M322.1,697.5 L322.5,700 L358,714 L358.1,711.7"/>
<path stroke-width="1.0" d="M367,702 L406.3,716.1 Q408,717 407,718.5 L398.6,726 L359.2,711.8 Z"/>
<path stroke-width="0.8" d="M359.2,711.8 L359.5,714.5 L398.5,728.5 L398.6,726 M398.6,728.5 L407.5,720 L407,718.5"/>
<path stroke-width="1.2" fill="#888" d="M358.1,711.7 L366.9,700.8 L367,702 L359.2,711.8"/>
<path stroke-width="1.2" d="M338,694 L341,691 L352,695 L350.5,698.5 L346,700 Z"/>
<path stroke-width="1.1" d="M376,707 L379,704 L388,707.5 L387,711 L380,710 Z M384,709 L387,711"/>
<path stroke-width="0.7" d="M261.6,760.5 L337.7,785 M255,767 L334,791"/>
<path stroke-width="1.0" d="M260.4,762.9 L295.5,774.6 L273.3,786.8 L240.9,777.8 Z"/>
<path stroke-width="0.9" fill="#7a7a7a" d="M240.9,777.8 L273.3,786.8 L271.3,798.5 L241.6,788.75 Z"/>
<path stroke-width="1.0" stroke="#222" d="M241.2,781.5 L272.6,790.6 M241.4,785.3 L272,794.5"/>
<path stroke-width="0.9" stroke="#ddd" stroke-dasharray="1.2 1.4" d="M241.6,783.4 L272.3,792.5 M241.8,787 L271.7,796.4"/>
<path stroke-width="1.0" d="M241.6,789 Q238,800 233.4,808.6"/>
<path stroke-width="1.0" d="M271.3,798.5 L268.6,820.3"/>
<path stroke-width="1.2" d="M258.5,775 L264.5,771.5 L275.6,775.3 L271.5,778.6 L264.5,778.6 Z M263,774 L271,776.5 M266,777.5 L268.5,773"/>
<path stroke-width="0.7" d="M273.3,787 L274.5,789 L273,799 L270,821 M276,788 Q278,803 274,824"/>
<g transform="translate(37,13.5)"><path stroke-width="1.0" d="M260.4,762.9 L295.5,774.6 L273.3,786.8 L240.9,777.8 Z"/>
<path stroke-width="0.9" fill="#7a7a7a" d="M240.9,777.8 L273.3,786.8 L271.3,798.5 L241.6,788.75 Z"/>
<path stroke-width="1.0" stroke="#222" d="M241.2,781.5 L272.6,790.6 M241.4,785.3 L272,794.5"/>
<path stroke-width="0.9" stroke="#ddd" stroke-dasharray="1.2 1.4" d="M241.6,783.4 L272.3,792.5 M241.8,787 L271.7,796.4"/>
<path stroke-width="1.0" d="M241.6,789 Q238,800 233.4,808.6"/>
<path stroke-width="1.0" d="M271.3,798.5 L255,816.5"/>
<path stroke-width="1.2" d="M258.5,775 L264.5,771.5 L275.6,775.3 L271.5,778.6 L264.5,778.6 Z M263,774 L271,776.5 M266,777.5 L268.5,773"/></g>
<path stroke-width="1.0" d="M173.2,853.3 Q172,856.5 176,858 L234,877.5 Q237.6,878.6 240.5,876 L267.5,851.5 Q270,848.6 266.5,847.3 L205,824.8 Q201.5,823.5 199,826 Z"/>
<path stroke-width="0.7" d="M176.5,852.5 L202,827 L264.5,849.5 L237,874.5 Z"/>
<path stroke-width="1.0" d="M206.5,825.5 Q206.5,832 208.8,835.7 Q211,838 215,839 L230.7,843.6 Q245,845 262,849"/>
<path stroke-width="0.8" d="M215.1,839 L215.5,844 L230,848.5 L230.7,843.6 M208.8,835.7 L209.5,839"/>
<path stroke-width="1.0" d="M182.3,849.8 Q192,846 203.4,845.1 Q214,846 223.7,851.4 Q229,853.5 229.9,856.1 L232.3,870.1"/>
<path stroke-width="0.9" d="M182.3,849.8 L182.3,858.4 L231.5,870.1 M206,862.5 L206,866.5"/>
<path stroke-width="0.6" d="M184,848 Q193,844.5 203.4,843.5 Q216,844.5 226,850.5"/>
<path stroke-width="0.9" d="M180,859.5 L233,872.5 L238,873.5 M233,872.5 L264,850"/>
<path stroke-width="1.4" d="M224.5,834.2 L234.6,837.3 M204.9,853.5 L215.9,857.2 M241.6,858.4 L248.7,852.9 M194,840.4 L200.2,835"/>
<path stroke-width="1.1" d="M208.5,818.5 Q207,814 214.2,813.2 L275.5,833 Q279.5,835.5 276.5,840.5 L273,842.5 Q271.5,843 269.5,842.5 L210.5,822.5 Z"/>
<ellipse cx="217.4" cy="819.6" rx="3.2" ry="2" stroke-width="1.1"/>
<ellipse cx="269" cy="838.3" rx="3.2" ry="2" stroke-width="1.1"/>
<path stroke-width="0.8" fill="#1a1a1a" d="M231,818.5 L241,822 L238.5,827.5 L228.5,824 Z"/>
<path stroke-width="0.8" fill="#555" d="M244.5,823 L255.5,827 L252.5,834 L241.5,830.5 Z"/>
<path stroke-width="0.9" d="M224,817 L231,818.5 M221.5,822.5 L228.5,824 M241,822 L244.5,823 M238.5,827.5 L241.5,830.5 M255.5,827 L259.5,829 L257,835 L252.5,834"/></g>
</g>
<line x1="242.9" y1="306.3" x2="349.9" y2="414.7" stroke="#fff" stroke-width="6"/>
<line x1="457.3" y1="223.9" x2="432.2" y2="356.4" stroke="#fff" stroke-width="6"/>
<line x1="828.2" y1="367.0" x2="554.0" y2="448.6" stroke="#fff" stroke-width="6"/>
<line x1="401.9" y1="694.5" x2="485.6" y2="499.0" stroke="#fff" stroke-width="6"/>
<line x1="547.5" y1="645.0" x2="490.6" y2="501.2" stroke="#fff" stroke-width="6"/>
<line x1="769.4" y1="618.4" x2="493.8" y2="498.8" stroke="#fff" stroke-width="6"/>
<line x1="1065.6" y1="510.3" x2="494.4" y2="491.0" stroke="#fff" stroke-width="6"/>
<rect x="4.5" y="15.5" width="1250" height="1014" fill="none" stroke="#000" stroke-width="3"/>
<text x="166.5" y="41" font-family="Liberation Sans, sans-serif" font-size="23" text-anchor="middle">5</text>
<text x="445.5" y="41" font-family="Liberation Sans, sans-serif" font-size="23" text-anchor="middle">5</text>
<text x="863" y="41" font-family="Liberation Sans, sans-serif" font-size="23" text-anchor="middle">5</text>
<text x="289" y="1020" font-family="Liberation Sans, sans-serif" font-size="23" text-anchor="middle">1</text>
<text x="530.5" y="1020" font-family="Liberation Sans, sans-serif" font-size="23" text-anchor="middle">2</text>
<text x="832.5" y="1020" font-family="Liberation Sans, sans-serif" font-size="23" text-anchor="middle">3</text>
<text x="1042.5" y="1020" font-family="Liberation Sans, sans-serif" font-size="23" text-anchor="middle">4</text>
<line x1="166.5" y1="44" x2="166.5" y2="201" stroke="#000" stroke-width="1.3"/>
<line x1="445.5" y1="44" x2="445.5" y2="80" stroke="#000" stroke-width="1.3"/>
<line x1="863" y1="44" x2="863" y2="281" stroke="#000" stroke-width="1.3"/>
<line x1="288.5" y1="890" x2="288.5" y2="999" stroke="#000" stroke-width="1.3"/>
<line x1="530.5" y1="845" x2="530.5" y2="999" stroke="#000" stroke-width="1.3"/>
<line x1="832.5" y1="745" x2="832.5" y2="999" stroke="#000" stroke-width="1.3"/>
<line x1="1042.5" y1="717" x2="1042.5" y2="999" stroke="#000" stroke-width="1.3"/>
<line x1="336.9" y1="401.5" x2="242.9" y2="306.3" stroke="#000" stroke-width="2.3" stroke-dasharray="13.6 3.8"/>
<path d="M349.9,414.7 L332.4,403.9 L336.9,401.5 L339.3,397.0 Z" fill="#000"/>
<line x1="435.6" y1="338.2" x2="457.3" y2="223.9" stroke="#000" stroke-width="2.3" stroke-dasharray="13.6 3.8"/>
<path d="M432.2,356.4 L431.1,335.8 L435.6,338.2 L440.7,337.7 Z" fill="#000"/>
<line x1="571.7" y1="443.3" x2="828.2" y2="367.0" stroke="#000" stroke-width="2.3" stroke-dasharray="21.5 3.5"/>
<path d="M554.0,448.6 L571.8,438.2 L571.7,443.3 L574.6,447.6 Z" fill="#000"/>
<line x1="478.3" y1="516.0" x2="401.9" y2="694.5" stroke="#000" stroke-width="2.3" stroke-dasharray="13.6 3.8"/>
<path d="M485.6,499.0 L482.2,519.3 L478.3,516.0 L473.2,515.5 Z" fill="#000"/>
<line x1="497.4" y1="518.5" x2="547.5" y2="645.0" stroke="#000" stroke-width="2.3" stroke-dasharray="13.6 3.8"/>
<path d="M490.6,501.2 L502.5,518.0 L497.4,518.5 L493.4,521.6 Z" fill="#000"/>
<line x1="510.7" y1="506.1" x2="769.4" y2="618.4" stroke="#000" stroke-width="2.3" stroke-dasharray="13.3 4.2"/>
<path d="M493.8,498.8 L514.0,502.2 L510.7,506.1 L510.1,511.2 Z" fill="#000"/>
<line x1="512.9" y1="491.6" x2="1065.6" y2="510.3" stroke="#000" stroke-width="2.3" stroke-dasharray="14.5 3.6"/>
<path d="M494.4,491.0 L514.6,486.8 L512.9,491.6 L514.2,496.6 Z" fill="#000"/>
</svg></body></html>
